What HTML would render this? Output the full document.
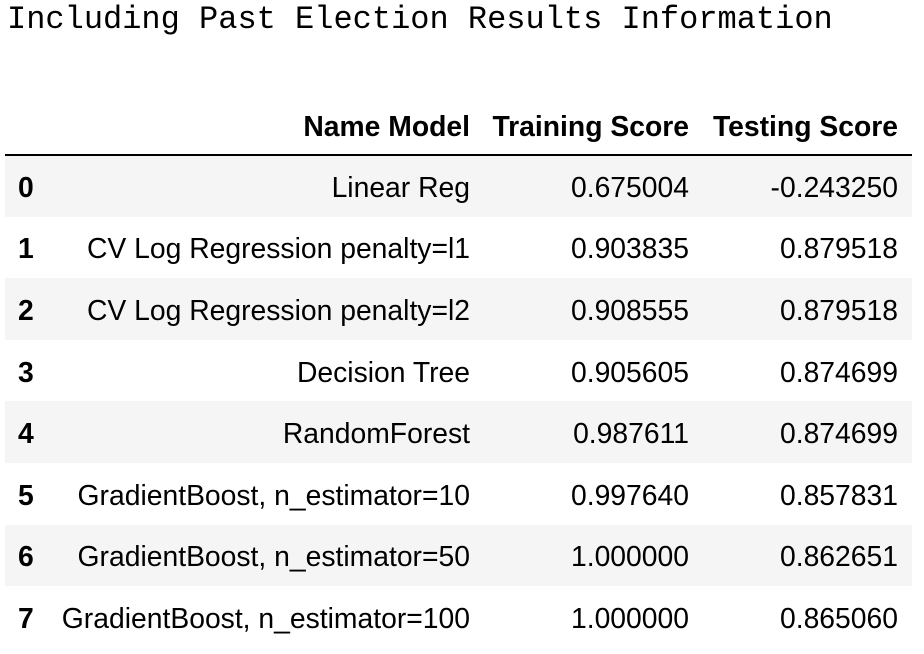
<!DOCTYPE html>
<html><head><meta charset="utf-8"><style>
body{margin:0;width:924px;height:654px;background:#fff;overflow:hidden;position:relative;font-family:"Liberation Sans",Helvetica,Arial,sans-serif;color:#000}
#title{position:absolute;left:7px;top:2px;font-family:"Liberation Mono",monospace;font-size:32px;line-height:36px;white-space:pre}
table{position:absolute;left:5px;top:95px;border-collapse:collapse;table-layout:fixed;width:907px;font-size:28.3px}
th,td{padding:3px 12px 0 0;text-align:right;white-space:nowrap}
thead tr{height:60px}
thead th{font-weight:bold;border-bottom:2.5px solid #000;vertical-align:middle}
tbody tr{height:61.6px}
tbody tr:nth-child(odd){background:#f5f5f5}
tbody th{text-align:left;padding-left:13px}
.c3{padding-right:14px}
</style></head><body>
<div id="title">Including Past Election Results Information</div>
<table>
<colgroup><col style="width:45px"><col style="width:432px"><col style="width:219px"><col style="width:211px"></colgroup>
<thead><tr><th></th><th>Name Model</th><th>Training Score</th><th class="c3">Testing Score</th></tr></thead>
<tbody>
<tr><th>0</th><td>Linear Reg</td><td>0.675004</td><td class="c3">-0.243250</td></tr>
<tr><th>1</th><td>CV Log Regression penalty=l1</td><td>0.903835</td><td class="c3">0.879518</td></tr>
<tr><th>2</th><td>CV Log Regression penalty=l2</td><td>0.908555</td><td class="c3">0.879518</td></tr>
<tr><th>3</th><td>Decision Tree</td><td>0.905605</td><td class="c3">0.874699</td></tr>
<tr><th>4</th><td>RandomForest</td><td>0.987611</td><td class="c3">0.874699</td></tr>
<tr><th>5</th><td>GradientBoost, n_estimator=10</td><td>0.997640</td><td class="c3">0.857831</td></tr>
<tr><th>6</th><td>GradientBoost, n_estimator=50</td><td>1.000000</td><td class="c3">0.862651</td></tr>
<tr><th>7</th><td>GradientBoost, n_estimator=100</td><td>1.000000</td><td class="c3">0.865060</td></tr>
</tbody></table>
</body></html>
